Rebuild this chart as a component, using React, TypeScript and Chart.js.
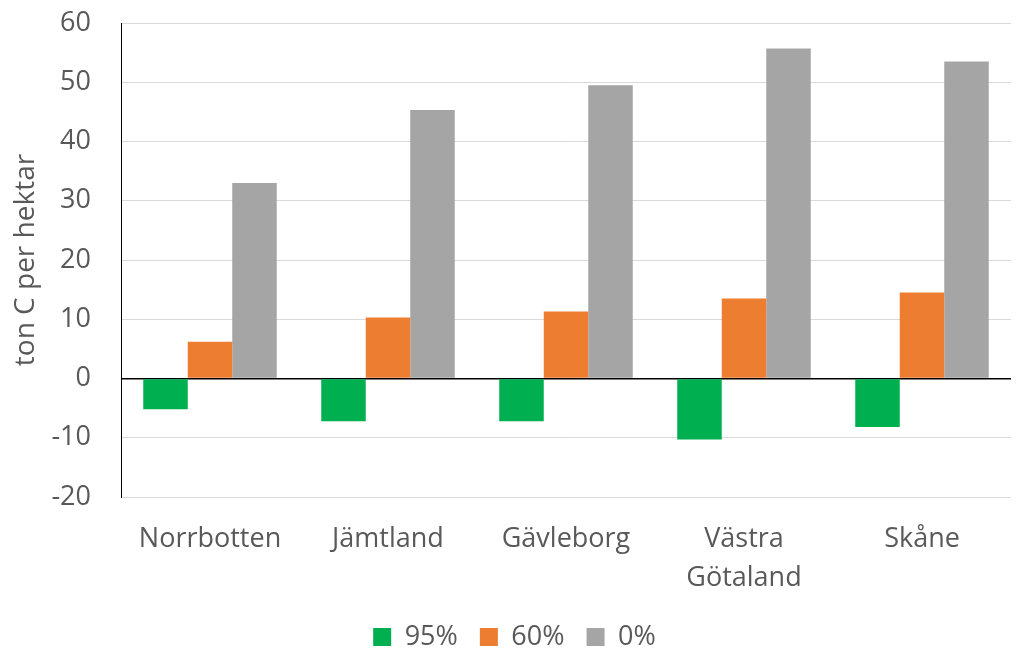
import React, { useEffect, useRef } from "react";
import { Chart, registerables } from "chart.js";

Chart.register(...registerables);

const categories: (string | string[])[] = ["Norrbotten", "Jämtland", "Gävleborg", ["Västra", "Götaland"], "Skåne"];
const seriesNames = ["95%", "60%", "0%"];
const values95 = [-5.2, -7.2, -7.2, -10.3, -8.2];
const values60 = [6.2, 10.3, 11.3, 13.5, 14.5];
const values0 = [33.0, 45.3, 49.5, 55.7, 53.5];
const yMin = -20;
const yMax = 60;
const yStep = 10;
const yTitle = "ton C per hektar";

const FONT = "'Open Sans', 'Noto Sans', sans-serif";
const TEXT = "#595959";

export default function App() {
  const ref = useRef<HTMLCanvasElement | null>(null);
  useEffect(() => {
    document.body.style.margin = "0";
    const canvas = ref.current!;
    const chart = new Chart(canvas, {
      type: "bar",
      data: {
        labels: categories,
        datasets: [
          { label: seriesNames[0], data: values95, backgroundColor: "#00B050" },
          { label: seriesNames[1], data: values60, backgroundColor: "#ED7D31" },
          { label: seriesNames[2], data: values0, backgroundColor: "#A5A5A5" },
        ],
      },
      options: {
        responsive: false,
        animation: false,
        layout: { padding: { left: 18, right: 5, top: 23, bottom: -8.5 } },
        datasets: { bar: { categoryPercentage: 0.75, barPercentage: 1.0 } },
        plugins: {
          tooltip: { enabled: false },
          legend: {
            position: "bottom",
            labels: {
              color: TEXT,
              font: { family: FONT, size: 27 },
              boxWidth: 18,
              boxHeight: 18,
              padding: 22,
            },
          },
        },
        scales: {
          x: {
            grid: { display: false, drawTicks: false },
            border: { display: false },
            ticks: {
              color: TEXT,
              font: { family: FONT, size: 27, lineHeight: 1.45 },
              padding: 23,
              maxRotation: 0,
              autoSkip: false,
            },
            afterFit: (scale: any) => {
              scale.height = 104.5;
            },
          },
          y: {
            min: yMin,
            max: yMax,
            ticks: {
              stepSize: yStep,
              color: TEXT,
              font: { family: FONT, size: 27 },
              padding: 30,
            },
            grid: {
              drawTicks: false,
              color: (ctx: any) => (ctx.tick && ctx.tick.value === 0 ? "#000000" : "#D9D9D9"),
              lineWidth: (ctx: any) => (ctx.tick && ctx.tick.value === 0 ? 1.5 : 1),
            },
            border: { display: true, color: "#000000", width: 1 },
            title: {
              display: true,
              text: yTitle,
              color: TEXT,
              font: { family: FONT, size: 28, lineHeight: 1 },
              padding: { top: -6, bottom: 0 },
            },
            afterFit: (scale: any) => {
              scale.width = 103;
              scale.paddingTop = 10;
              scale.paddingBottom = 10;
            },
          },
        },
      },
    });
    return () => chart.destroy();
  }, []);
  return (
    <div style={{ width: 1016, height: 652 }}>
      <canvas ref={ref} width={1016} height={652} />
    </div>
  );
}
